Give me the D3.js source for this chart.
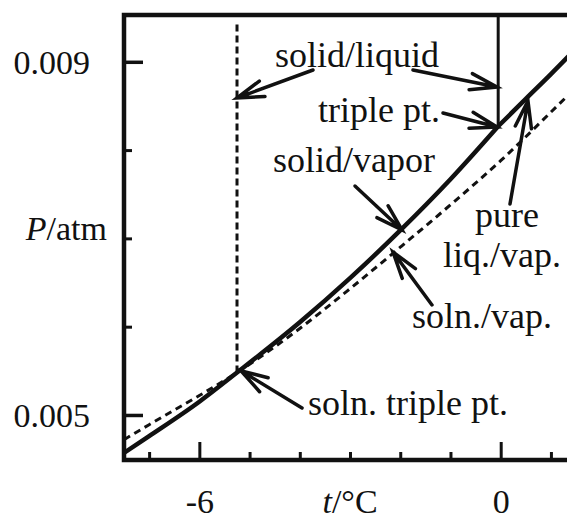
<!DOCTYPE html>
<html>
<head>
<meta charset="utf-8">
<script src="https://cdn.jsdelivr.net/npm/d3@7"></script>
<style>
  html, body { margin: 0; padding: 0; background: #fff; }
  svg { display: block; }
  text { font-family: "Liberation Serif", "Times New Roman", serif; fill: #111; }
</style>
</head>
<body>
<svg id="chart" width="567" height="521"></svg>
<script>
// ---- data (t in °C, P in atm) ----
const solidVaporT = [-7.5, -7, -6, -5.25, -4, -3, -2, -1, -0.05];
const solidVaporP = [0.00457, 0.00476, 0.00515, 0.00548, 0.00605, 0.00655, 0.00709, 0.00767, 0.00827];

const solnVaporT = [-7.5, -7, -6, -5.25, -4, -3, -2, -1, 0, 1, 1.5];
const solnVaporP = [0.00472, 0.00489, 0.00522, 0.00548, 0.00598, 0.00643, 0.00690, 0.00738, 0.00788, 0.00843, 0.00871];

const pureLiqVapT = [-0.05, 0.5, 1, 1.5];
const pureLiqVapP = [0.00827, 0.00858, 0.00886, 0.00915];

const solidLiqT = [-0.05, -0.05];
const solidLiqP = [0.00827, 0.00953];

const solnFreezeT = [-5.25, -5.25];
const solnFreezeP = [0.00548, 0.00944];

const xMajorTicks = [-6, 0];
const xMinorTicks = [-7, -5, -4, -3, -2, -1, 1];
const yMajorTicks = [0.005, 0.009];
const yMinorTicks = [0.006, 0.007, 0.008];
const xTitleAt = -3;
const yTitleAt = 0.007;

// annotation labels (anchor in data coords)
const labelText = ["solid/liquid", "triple pt.", "solid/vapor", "pure", "liq./vap.", "soln./vap.", "soln. triple pt."];
const labelT = [-4.494, -3.637, -4.534, -0.512, -1.149, -1.766, -3.837];
const labelP = [0.008943, 0.008318, 0.007752, 0.007129, 0.006676, 0.005985, 0.0049997];

// arrows: tail -> tip, data coords
const arrowTailT = [-3.737, -1.747, -1.149, -2.901, 0.185, -1.368, -3.956];
const arrowTailP = [0.008907, 0.008907, 0.008420, 0.007593, 0.007390, 0.006246, 0.005079];
const arrowTipT  = [-5.250, -0.074, -0.074, -1.965, 0.543, -2.145, -5.171];
const arrowTipP  = [0.008590, 0.008715, 0.008262, 0.007095, 0.008556, 0.006846, 0.005500];

// ---- layout ----
const mLeft = 124, mRight = 567, mTop = 15, mBottom = 460;
const svg = d3.select("#chart");
const x = d3.scaleLinear().domain([-7.5, 1.32]).range([mLeft, mRight]);
const y = d3.scaleLinear().domain([0.00449, 0.00953]).range([mBottom, mTop]);

svg.append("defs").append("clipPath").attr("id", "plotclip")
  .append("rect").attr("x", mLeft).attr("y", mTop).attr("width", mRight - mLeft).attr("height", mBottom - mTop);

// axes (ticks inward)
function styleAxis(g, w) {
  g.select(".domain").remove();
  g.selectAll(".tick line").attr("stroke", "#111").attr("stroke-width", w);
  g.selectAll(".tick text").style("font-size", "34px").attr("fill", "#111");
}
svg.append("g").attr("transform", `translate(${mLeft},0)`)
  .call(d3.axisLeft(y).tickValues(yMajorTicks).tickSize(-19).tickPadding(34).tickFormat(d3.format(".3f")))
  .call(g => styleAxis(g, 3.5))
  .call(g => g.selectAll(".tick text").attr("dy", "0.33em"));
svg.append("g").attr("transform", `translate(${mLeft},0)`)
  .call(d3.axisLeft(y).tickValues(yMinorTicks).tickSize(-8).tickFormat(""))
  .call(g => styleAxis(g, 3));
svg.append("g").attr("transform", `translate(0,${mBottom})`)
  .call(d3.axisBottom(x).tickValues(xMajorTicks).tickSize(-18).tickPadding(29).tickFormat(d => String(d)))
  .call(g => styleAxis(g, 3));
svg.append("g").attr("transform", `translate(0,${mBottom})`)
  .call(d3.axisBottom(x).tickValues(xMinorTicks).tickSize(-8).tickFormat(""))
  .call(g => styleAxis(g, 3));

// frame: left, top, bottom
svg.append("path")
  .attr("d", `M${mRight},${mTop} H${mLeft} V${mBottom} H${mRight}`)
  .attr("fill", "none").attr("stroke", "#111").attr("stroke-width", 4.5);

// axis titles
const yt = svg.append("text").attr("x", 107).attr("y", y(yTitleAt) + 2)
  .attr("text-anchor", "end").style("font-size", "34px");
yt.append("tspan").attr("font-style", "italic").text("P");
yt.append("tspan").text("/atm");
const xt = svg.append("text").attr("x", x(xTitleAt)).attr("y", 513)
  .attr("text-anchor", "middle").style("font-size", "34px");
xt.append("tspan").attr("font-style", "italic").text("t");
xt.append("tspan").text("/°C");

// curves
const plot = svg.append("g").attr("clip-path", "url(#plotclip)");
const line = d3.line().x(d => x(d[0])).y(d => y(d[1])).curve(d3.curveMonotoneX);
const straight = d3.line().x(d => x(d[0])).y(d => y(d[1]));
const zip = (a, b) => a.map((v, i) => [v, b[i]]);

plot.append("path").attr("d", line(zip(solnVaporT, solnVaporP)))
  .attr("fill", "none").attr("stroke", "#111").attr("stroke-width", 3).attr("stroke-dasharray", "7,5");
plot.append("path").attr("d", straight(zip(solnFreezeT, solnFreezeP)))
  .attr("fill", "none").attr("stroke", "#111").attr("stroke-width", 3).attr("stroke-dasharray", "7,4");
plot.append("path").attr("d", line(zip(solidVaporT, solidVaporP)))
  .attr("fill", "none").attr("stroke", "#111").attr("stroke-width", 4.5);
plot.append("path").attr("d", line(zip(pureLiqVapT, pureLiqVapP)))
  .attr("fill", "none").attr("stroke", "#111").attr("stroke-width", 4.5);
plot.append("path").attr("d", straight(zip(solidLiqT, solidLiqP)))
  .attr("fill", "none").attr("stroke", "#111").attr("stroke-width", 3);

// labels
labelText.forEach((s, i) => {
  svg.append("text").attr("x", x(labelT[i])).attr("y", y(labelP[i]))
    .style("font-size", "36px").text(s);
});

// arrows
arrowTipT.forEach((_, i) => {
  const x0 = x(arrowTailT[i]), y0 = y(arrowTailP[i]);
  const x1 = x(arrowTipT[i]), y1 = y(arrowTipP[i]);
  const ang = Math.atan2(y0 - y1, x0 - x1);
  const L = 28, a = 17 * Math.PI / 180;
  const b1 = [x1 + L * Math.cos(ang - a), y1 + L * Math.sin(ang - a)];
  const b2 = [x1 + L * Math.cos(ang + a), y1 + L * Math.sin(ang + a)];
  svg.append("path")
    .attr("d", `M${x0},${y0} L${x1},${y1} M${b1[0]},${b1[1]} L${x1},${y1} L${b2[0]},${b2[1]}`)
    .attr("fill", "none").attr("stroke", "#111").attr("stroke-width", 3.5)
    .attr("stroke-linecap", "round").attr("stroke-linejoin", "miter");
});
</script>
</body>
</html>
